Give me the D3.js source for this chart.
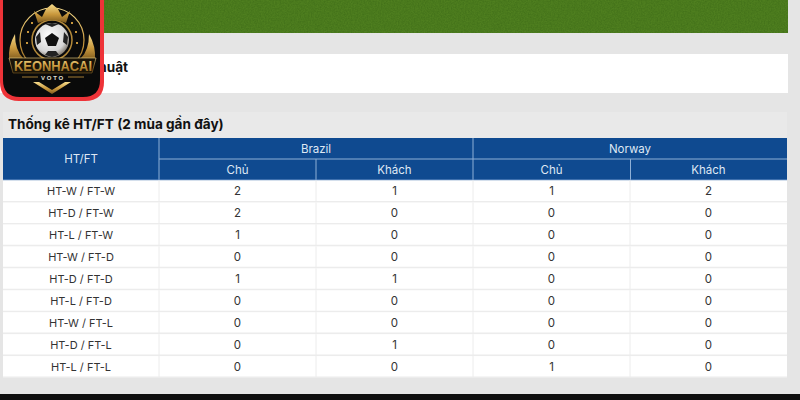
<!DOCTYPE html>
<html>
<head>
<meta charset="utf-8">
<script src="https://cdn.jsdelivr.net/npm/d3@7"></script>
<style>
html, body { margin: 0; padding: 0; background: #e5e5e5; overflow: hidden; }
svg { display: block; font-family: Inter, "Noto Sans", sans-serif; }
</style>
</head>
<body>
<div id="chart"></div>
<script>
const rowLabels = ['HT-W / FT-W', 'HT-D / FT-W', 'HT-L / FT-W', 'HT-W / FT-D', 'HT-D / FT-D', 'HT-L / FT-D', 'HT-W / FT-L', 'HT-D / FT-L', 'HT-L / FT-L'];
const teams = ['Brazil', 'Norway'];
const sides = ['Chủ', 'Khách'];
const brazilHome = [2, 2, 1, 0, 1, 0, 0, 0, 0];
const brazilAway = [1, 0, 0, 0, 1, 0, 0, 1, 0];
const norwayHome = [1, 0, 0, 0, 0, 0, 0, 0, 1];
const norwayAway = [2, 0, 0, 0, 0, 0, 0, 0, 0];
const columns = [brazilHome, brazilAway, norwayHome, norwayAway];

const w = 800;
const h = 400;
const blue = '#0f4a90';
const headLine = '#8fb0d6';
const rowLine = '#ececec';

const svg = d3.select('#chart').append('svg').attr('width', w).attr('height', h);
const defs = svg.append('defs');

// grass texture for the banner
const grass = defs.append('filter').attr('id', 'grass').attr('x', 0).attr('y', 0).attr('width', 1).attr('height', 1).attr('color-interpolation-filters', 'sRGB');
grass.append('feTurbulence').attr('type', 'fractalNoise').attr('baseFrequency', 0.7).attr('numOctaves', 2).attr('seed', 4);
grass.append('feColorMatrix').attr('values', '0 0 0 0 0.22  0 0 0 0 0.40  0 0 0 0 0.08  0 0 0 0.9 -0.22');
grass.append('feComposite').attr('in2', 'SourceGraphic').attr('operator', 'over');

const gold = defs.append('linearGradient').attr('id', 'gold').attr('x1', 0).attr('y1', 0).attr('x2', 0).attr('y2', 1);
gold.append('stop').attr('offset', '0%').attr('stop-color', '#f6dc8c');
gold.append('stop').attr('offset', '55%').attr('stop-color', '#c8973c');
gold.append('stop').attr('offset', '100%').attr('stop-color', '#7d5a1e');

const ballGrad = defs.append('radialGradient').attr('id', 'ball').attr('cx', 0.42).attr('cy', 0.38).attr('r', 0.68);
ballGrad.append('stop').attr('offset', '0%').attr('stop-color', '#ffffff');
ballGrad.append('stop').attr('offset', '70%').attr('stop-color', '#d5d5d5');
ballGrad.append('stop').attr('offset', '100%').attr('stop-color', '#6e6558');

// page panels
svg.append('rect').attr('width', w).attr('height', h).attr('fill', '#e5e5e5');
svg.append('rect').attr('x', 0).attr('y', 0).attr('width', 788).attr('height', 33).attr('fill', '#4f7f1f').attr('filter', 'url(#grass)');
svg.append('rect').attr('x', 0).attr('y', 54).attr('width', 788).attr('height', 39).attr('fill', '#ffffff');
// the logo hides the start of this heading, only the tail shows
svg.append('text').attr('x', 128).attr('y', 72).attr('text-anchor', 'end').attr('font-size', 13.6).attr('font-weight', 700).attr('fill', '#111111').text('huật');
svg.append('rect').attr('x', 3).attr('y', 112).attr('width', 784).attr('height', 26).attr('fill', '#e9e9e9');
svg.append('text').attr('x', 8).attr('y', 129).attr('font-size', 13.6).attr('font-weight', 700).attr('fill', '#111111').text('Thống kê HT/FT (2 mùa gần đây)');
svg.append('rect').attr('x', 0).attr('y', 394).attr('width', w).attr('height', 6).attr('fill', '#0f0f0f');

// table scales
const x = d3.scaleLinear().domain([0, 1]).range([159, 787]);
const y = d3.scaleBand().domain(rowLabels).range([180.5, 378]);
const teamX = d3.scaleBand().domain(teams).range(x.range());
const colX = d3.scaleBand().domain(d3.range(columns.length)).range(x.range());
const table = svg.append('g').attr('font-size', 11.5);

// header
table.append('rect').attr('x', 3).attr('y', 138).attr('width', 784).attr('height', 42).attr('fill', blue);
table.append('text').attr('x', 81).attr('y', 159).attr('dy', '0.35em').attr('text-anchor', 'middle').attr('fill', '#dfe8f4').text('HT/FT');

table.selectAll('.team').data(teams).enter().append('text')
  .attr('class', 'team')
  .attr('x', (d) => teamX(d) + teamX.bandwidth() / 2)
  .attr('y', 148.5).attr('dy', '0.35em').attr('text-anchor', 'middle').attr('fill', '#dfe8f4')
  .text((d) => d);

table.selectAll('.side').data(columns).enter().append('text')
  .attr('class', 'side')
  .attr('x', (d, i) => colX(i) + colX.bandwidth() / 2)
  .attr('y', 170).attr('dy', '0.35em').attr('text-anchor', 'middle').attr('fill', '#dfe8f4')
  .text((d, i) => sides[i % 2]);

table.append('line').attr('x1', 159).attr('x2', 787).attr('y1', 159).attr('y2', 159).attr('stroke', headLine);
table.append('line').attr('x1', 159).attr('x2', 159).attr('y1', 138).attr('y2', 180).attr('stroke', headLine);
table.append('line').attr('x1', 473).attr('x2', 473).attr('y1', 138).attr('y2', 180).attr('stroke', headLine);
table.append('line').attr('x1', 316).attr('x2', 316).attr('y1', 159).attr('y2', 180).attr('stroke', headLine);
table.append('line').attr('x1', 630.5).attr('x2', 630.5).attr('y1', 159).attr('y2', 180).attr('stroke', headLine);
table.append('line').attr('x1', 3).attr('x2', 787).attr('y1', 180).attr('y2', 180).attr('stroke', '#6f97cc');

// body rows
const rows = table.selectAll('.row').data(rowLabels).enter().append('g')
  .attr('class', 'row')
  .attr('transform', (d) => 'translate(0,' + y(d) + ')');

rows.append('rect').attr('x', 3).attr('width', 784).attr('height', y.bandwidth()).attr('fill', '#ffffff');
rows.append('line').attr('x1', 3).attr('x2', 787).attr('y1', y.bandwidth() - 0.75).attr('y2', y.bandwidth() - 0.75).attr('stroke', rowLine).attr('stroke-width', 1.5);
rows.append('text').attr('x', 81).attr('y', y.bandwidth() / 2).attr('dy', '0.35em').attr('text-anchor', 'middle').attr('font-size', 11).attr('fill', '#333333').text((d) => d);

columns.forEach(function(col, c) {
  rows.append('text')
    .attr('x', colX(c) + colX.bandwidth() / 2)
    .attr('y', y.bandwidth() / 2).attr('dy', '0.35em').attr('text-anchor', 'middle').attr('fill', '#333333')
    .text((d, i) => col[i]);
  rows.append('line')
    .attr('x1', colX(c)).attr('x2', colX(c)).attr('y1', 0).attr('y2', y.bandwidth())
    .attr('stroke', rowLine);
});

// logo badge over the corner
const logo = svg.append('g');
logo.append('path').attr('d', 'M0,0H104V82Q104,101 85,101H19Q0,101 0,82Z').attr('fill', '#ee3338');
logo.append('path').attr('d', 'M3,0H100V80Q100,97 83,97H20Q3,97 3,80Z').attr('fill', '#0a0a0a');

// wings and ring
logo.append('path').attr('d', 'M9,60Q8,46 15,34Q15,50 23,58Z M95,60Q96,46 89,34Q89,50 81,58Z').attr('fill', 'url(#gold)');
logo.append('circle').attr('cx', 52).attr('cy', 40).attr('r', 32).attr('fill', 'none').attr('stroke', 'url(#gold)').attr('stroke-width', 1.2);
logo.append('circle').attr('cx', 52).attr('cy', 40).attr('r', 20).attr('fill', 'none').attr('stroke', '#b48a3a').attr('stroke-width', 1.5);
logo.append('path').attr('d', 'M27,31h2v2h-2Z M26,42h2v2h-2Z M75,31h2v2h-2Z M76,42h2v2h-2Z M31,22h2v2h-2Z M71,22h2v2h-2Z').attr('fill', '#c8973c');

// crown
logo.append('path').attr('d', 'M34,11L42,17L46,9L52,4L58,9L62,17L70,11L66,23Q52,17 38,23Z').attr('fill', 'url(#gold)');

// ball
logo.append('circle').attr('cx', 52).attr('cy', 40).attr('r', 17).attr('fill', 'url(#ball)');
logo.append('path').attr('d', 'M52,33L59,38L56,46H48L45,38Z').attr('fill', '#111111');
logo.append('path').attr('d', 'M45,24L52,23L59,24L52,27Z M36,37L40,32L41,42L37,45Z M68,37L64,32L63,42L67,45Z M45,55L48,51H56L59,55L52,57Z').attr('fill', '#222222');

// wordmark
logo.append('path').attr('d', 'M9,58H96L92,73H13Z').attr('fill', '#1a1408').attr('stroke', 'url(#gold)').attr('stroke-width', 0.6);
logo.append('text').attr('x', 53).attr('y', 70.5).attr('text-anchor', 'middle').attr('font-family', '"Liberation Sans", sans-serif').attr('font-size', 14).attr('font-weight', 700).attr('fill', 'url(#gold)').attr('textLength', 78).attr('lengthAdjust', 'spacingAndGlyphs').text('KEONHACAI');
logo.append('text').attr('x', 53).attr('y', 79.5).attr('text-anchor', 'middle').attr('font-family', '"Liberation Sans", sans-serif').attr('font-size', 6).attr('font-weight', 700).attr('letter-spacing', 1.8).attr('fill', '#e3e0d4').text('VOTO');
logo.append('path').attr('d', 'M22,77H38M68,77H84').attr('stroke', '#c8973c').attr('stroke-width', 0.8);
logo.append('path').attr('d', 'M33,82L52,94L71,82L65,82L52,90L39,82Z').attr('fill', 'url(#gold)');
</script>
</body>
</html>
